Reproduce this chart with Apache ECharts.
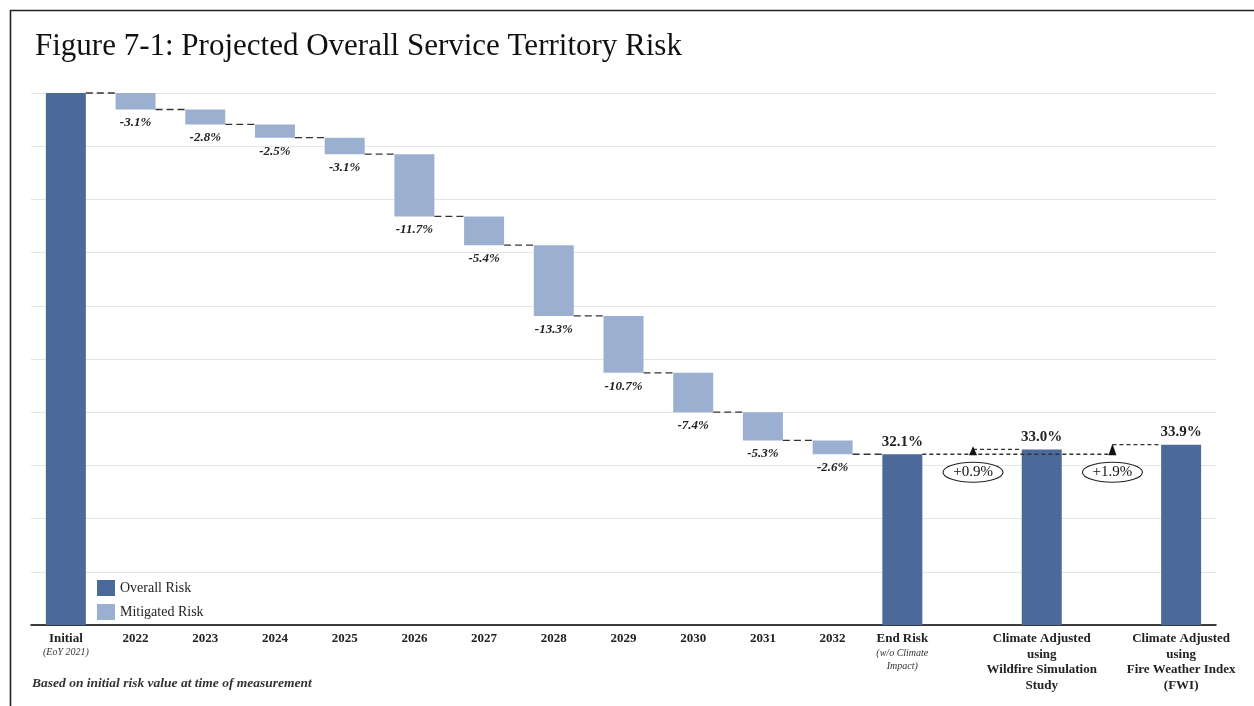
<!DOCTYPE html>
<html>
<head>
<meta charset="utf-8">
<script src="https://cdn.jsdelivr.net/npm/echarts@6/dist/echarts.min.js"></script>
<style>
html,body{margin:0;padding:0;background:#fff;}
#chart{width:1254px;height:706px;}
</style>
</head>
<body>
<div id="chart"></div>
<script>
// ---- data ----
const categories = ['Initial','2022','2023','2024','2025','2026','2027','2028','2029','2030','2031','2032','End Risk','gap1','Climate Wildfire','gap2','Climate FWI'];
const initialRisk = 100;
const yearChanges = [-3.1,-2.8,-2.5,-3.1,-11.7,-5.4,-13.3,-10.7,-7.4,-5.3,-2.6];
const endRisk = 32.1;
const climateRisk = [33.0, 33.9];
const climateChangeLabels = ['+0.9%','+1.9%'];
const legendNames = ['Overall Risk','Mitigated Risk'];

// ---- build series ----
const SERIF = '"Liberation Serif","Times New Roman",serif';
const overallColor = '#4b6a99';
const mitigatedColor = '#9bb0d1';
const BAR_W = 40;
const n = categories.length;
const baseData = new Array(n).fill('-');
const mitData = new Array(n).fill('-');
const overallData = new Array(n).fill('-');
overallData[0] = initialRisk;
baseData[0] = 0;
let level = initialRisk;
const levels = [initialRisk];
yearChanges.forEach((c, i) => {
  const next = +(level + c).toFixed(1);
  baseData[i + 1] = next;
  mitData[i + 1] = +Math.abs(c).toFixed(1);
  level = next;
  levels.push(next);
});
const endIdx = 12;
overallData[endIdx] = endRisk; baseData[endIdx] = 0;
const climIdx = [14, 16];
const gapIdx = [13, 15];
climIdx.forEach((ci, k) => { overallData[ci] = climateRisk[k]; baseData[ci] = 0; });

const overallSeriesData = overallData.map((v, i) => {
  if (v === '-') return '-';
  return { value: v, label: { show: i !== 0 } };
});

// connectors: [from, level, to, kind]
const connectors = [];
for (let i = 0; i < levels.length; i++) {
  connectors.push([i, levels[i], i + 1, 0]);
}
connectors.push([endIdx, endRisk, gapIdx[1], 1]);
const arrows = gapIdx.map((g, k) => [g, endRisk, climIdx[k], climateRisk[k]]);

const categoryLabel = {
  'Initial': '{b|Initial}\n{i|(EoY 2021)}',
  'End Risk': '{b|End Risk}\n{i2|(w/o Climate}\n{i2|Impact)}',
  'Climate Wildfire': '{b|Climate Adjusted}\n{b|using}\n{b|Wildfire Simulation}\n{b|Study}',
  'Climate FWI': '{b|Climate Adjusted}\n{b|using}\n{b|Fire Weather Index}\n{b|(FWI)}',
  'gap1': '', 'gap2': ''
};

const chart = echarts.init(document.getElementById('chart'));
chart.setOption({
  animation: false,
  backgroundColor: '#fff',
  title: {
    text: 'Figure 7-1: Projected Overall Service Territory Risk',
    left: 30, top: 26,
    textStyle: { fontFamily: SERIF, fontSize: 31, fontWeight: 'normal', color: '#111' }
  },
  graphic: [
    { type: 'rect', left: 8, top: 8, shape: { width: 1400, height: 900 }, style: { fill: 'none', stroke: '#222', lineWidth: 1.6 }, silent: true },
    { type: 'text', left: 32, top: 677, style: { text: 'Based on initial risk value at time of measurement', font: 'italic bold 13.5px ' + SERIF, fill: '#333' } }
  ],
  legend: {
    data: legendNames,
    orient: 'vertical',
    left: 92, top: 575,
    itemWidth: 18, itemHeight: 16, itemGap: 8,
    icon: 'rect',
    textStyle: { fontFamily: SERIF, fontSize: 14, color: '#222' }
  },
  grid: { left: 31, right: 38, top: 93, bottom: 81, containLabel: false },
  xAxis: {
    type: 'category',
    data: categories,
    axisLine: { lineStyle: { color: '#000', width: 1.5 } },
    axisTick: { show: false },
    axisLabel: {
      interval: 0, margin: 6,
      formatter: v => (v in categoryLabel ? categoryLabel[v] : '{b|' + v + '}'),
      rich: {
        b: { fontFamily: SERIF, fontSize: 13, fontWeight: 'bold', color: '#222', lineHeight: 15.5, align: 'center' },
        i: { fontFamily: SERIF, fontSize: 10, fontStyle: 'italic', color: '#333', lineHeight: 12, align: 'center' },
        i2: { fontFamily: SERIF, fontSize: 10, fontStyle: 'italic', color: '#333', lineHeight: 13, align: 'center' }
      }
    }
  },
  yAxis: {
    type: 'value', min: 0, max: 100, interval: 10,
    axisLabel: { show: false }, axisLine: { show: false }, axisTick: { show: false },
    splitLine: { lineStyle: { color: '#e4e4e4', width: 1 } }
  },
  series: [
    {
      name: 'base', type: 'bar', stack: 'w', barWidth: BAR_W, silent: true,
      itemStyle: { color: 'transparent' }, data: baseData
    },
    {
      name: 'Mitigated Risk', type: 'bar', stack: 'w', barWidth: BAR_W,
      itemStyle: { color: mitigatedColor }, data: mitData,
      label: {
        show: true, position: 'bottom', distance: 7,
        formatter: p => yearChanges[p.dataIndex - 1].toFixed(1) + '%',
        fontFamily: SERIF, fontSize: 13, fontStyle: 'italic', fontWeight: 'bold', color: '#222'
      }
    },
    {
      name: 'Overall Risk', type: 'bar', stack: 'w', barWidth: BAR_W,
      itemStyle: { color: overallColor }, data: overallSeriesData,
      label: {
        show: false, position: 'top', distance: 5,
        formatter: p => p.value.toFixed(1) + '%',
        fontFamily: SERIF, fontSize: 15, fontWeight: 'bold', color: '#222'
      }
    },
    {
      name: 'connectors', type: 'custom', silent: true, z: 5,
      encode: { x: 0, y: 1 },
      data: connectors,
      renderItem: (params, api) => {
        const from = api.value(0), lv = api.value(1), to = api.value(2), kind = api.value(3);
        const p1 = api.coord([from, lv]);
        const p2 = api.coord([to, lv]);
        const hw = BAR_W / 2;
        const x1 = p1[0] + hw;
        const x2 = kind === 0 ? p2[0] - hw : p2[0];
        return {
          type: 'line',
          shape: { x1: x1, y1: p1[1], x2: x2, y2: p1[1] },
          style: { stroke: '#333', lineWidth: 1.3, lineDash: kind === 0 ? [7, 4] : [4, 3] }
        };
      }
    },
    {
      name: 'arrows', type: 'custom', silent: true, z: 6,
      encode: { x: 0, y: 1 },
      data: arrows,
      renderItem: (params, api) => {
        const g = api.value(0), lv = api.value(1), t = api.value(2), tl = api.value(3);
        const pb = api.coord([g, lv]);
        const pt = api.coord([g, tl]);
        const pc = api.coord([t, tl]);
        const x = pb[0] + 1;
        const top = Math.min(pt[1] - 1, pb[1] - 8);
        return {
          type: 'group',
          children: [
            { type: 'line', shape: { x1: x, y1: pt[1], x2: pc[0] - BAR_W / 2, y2: pt[1] },
              style: { stroke: '#333', lineWidth: 1.2, lineDash: [4, 3] } },
            { type: 'polygon', shape: { points: [[x, top], [x - 4, pb[1] + 1], [x + 4, pb[1] + 1]] },
              style: { fill: '#111' } }
          ]
        };
      }
    },
    {
      name: 'increments', type: 'custom', silent: true, z: 6,
      encode: { x: 0, y: 1 },
      data: gapIdx.map((g, k) => [g, endRisk, k]),
      renderItem: (params, api) => {
        const p = api.coord([api.value(0), api.value(1)]);
        const cx = p[0] + 1, cy = p[1] + 18;
        return {
          type: 'group',
          children: [
            { type: 'ellipse', shape: { cx: cx, cy: cy, rx: 30, ry: 10 },
              style: { fill: '#fff', stroke: '#222', lineWidth: 1.1 } },
            { type: 'text', style: { text: climateChangeLabels[api.value(2)], x: cx, y: cy,
              textAlign: 'center', textVerticalAlign: 'middle', font: '15px ' + SERIF, fill: '#111' } }
          ]
        };
      }
    }
  ]
});
</script>
</body>
</html>
